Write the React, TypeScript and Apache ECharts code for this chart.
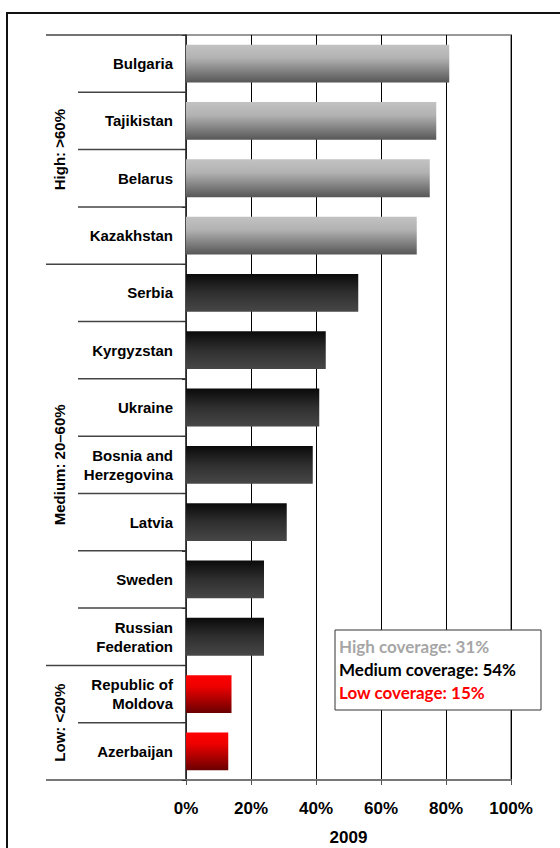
import React, { useEffect, useRef } from "react";
import * as echarts from "echarts";

const categories = [
  "Bulgaria",
  "Tajikistan",
  "Belarus",
  "Kazakhstan",
  "Serbia",
  "Kyrgyzstan",
  "Ukraine",
  "Bosnia and\nHerzegovina",
  "Latvia",
  "Sweden",
  "Russian\nFederation",
  "Republic of\nMoldova",
  "Azerbaijan",
];
const values = [81, 77, 75, 71, 53, 43, 41, 39, 31, 24, 24, 14, 13];
const groups = ["high", "high", "high", "high", "medium", "medium", "medium", "medium", "medium", "medium", "medium", "low", "low"];
const groupLabels = [
  { key: "high", text: "High: >60%" },
  { key: "medium", text: "Medium: 20\u201360%" },
  { key: "low", text: "Low: <20%" },
];
const xTicks = [0, 20, 40, 60, 80, 100];
const xName = "2009";
const legendLines = [
  { text: "High coverage: 31%", color: "#a6a6a6" },
  { text: "Medium coverage: 54%", color: "#000000" },
  { text: "Low coverage: 15%", color: "#ff0000" },
];

const grad = (stops: [number, string][]) =>
  new echarts.graphic.LinearGradient(
    0, 0, 0, 1,
    stops.map(([offset, color]) => ({ offset, color }))
  );

const groupFill: Record<string, () => any> = {
  high: () => grad([[0, "#c2c2c2"], [0.35, "#b2b2b2"], [1, "#565656"]]),
  medium: () => grad([[0, "#0a0a0a"], [0.5, "#2f2f2f"], [1, "#474747"]]),
  low: () => grad([[0, "#ff0000"], [0.3, "#ee0000"], [1, "#6a0000"]]),
};

export default function App() {
  const ref = useRef<HTMLDivElement>(null);

  useEffect(() => {
    if (!ref.current) return;
    const chart = echarts.init(ref.current, undefined, { renderer: "svg" });
    const font = "'Liberation Sans', Arial, sans-serif";

    chart.setOption({
      animation: false,
      grid: {
        left: 186,
        right: 49,
        top: 35,
        bottom: 68,
        containLabel: false,
        outerBoundsMode: "none",
        show: true,
        borderColor: "#999999",
        borderWidth: 2,
      },
      xAxis: {
        type: "value",
        min: xTicks[0],
        max: xTicks[xTicks.length - 1],
        interval: 20,
        name: xName,
        nameLocation: "middle",
        nameGap: 49,
        nameTextStyle: { fontFamily: font, fontWeight: "bold", fontSize: 17, color: "#000" },
        axisLine: { show: true, lineStyle: { color: "#777777", width: 2 } },
        axisTick: { show: true, length: 5, lineStyle: { color: "#555", width: 1 } },
        axisLabel: {
          formatter: "{value}%",
          fontFamily: font,
          fontWeight: "bold",
          fontSize: 17,
          color: "#000",
          margin: 20,
        },
        splitLine: { show: true, lineStyle: { color: "#000", width: 1 } },
      },
      yAxis: {
        type: "category",
        inverse: true,
        data: categories,
        axisLine: { show: true, lineStyle: { color: "#333", width: 1.5 } },
        axisTick: { show: true, length: 4, lineStyle: { color: "#333" } },
        axisLabel: {
          fontFamily: font,
          fontWeight: "bold",
          fontSize: 15,
          color: "#000",
          margin: 13,
          lineHeight: 19,
          align: "right",
        },
        splitLine: { show: false },
      },
      series: [
        {
          type: "bar",
          barWidth: "66%",
          data: values.map((v, i) => ({
            value: v,
            itemStyle: { color: groupFill[groups[i]]() },
          })),
        },
      ],
    });

    const centers = categories.map((c) => chart.convertToPixel({ yAxisIndex: 0 }, c) as number);
    const half = (centers[1] - centers[0]) / 2;
    const boundary = (i: number) => centers[i] - half;
    const x0 = chart.convertToPixel({ xAxisIndex: 0 }, 0) as number;
    const graphics: any[] = [];

    graphics.push({
      type: "rect",
      shape: { x: 7, y: 13, width: 700, height: 900 },
      style: { fill: "none", stroke: "#111", lineWidth: 2 },
      silent: true,
      z: -1,
    });

    for (let i = 0; i <= categories.length; i++) {
      const isGroupEdge = i === 0 || i === categories.length || groups[i] !== groups[i - 1];
      const y = i === categories.length ? centers[i - 1] + half : boundary(i);
      const xl = isGroupEdge ? 46 : 78;
      const isBottom = i === categories.length;
      graphics.push({
        type: "line",
        shape: { x1: xl, y1: y, x2: x0, y2: y },
        style: { stroke: isBottom ? "#777777" : "#444444", lineWidth: isBottom ? 2 : 1.5 },
        silent: true,
      });
    }

    groupLabels.forEach((g) => {
      const idx = groups.map((k, i) => (k === g.key ? i : -1)).filter((i) => i >= 0);
      const top = boundary(idx[0]);
      const bottom = centers[idx[idx.length - 1]] + half;
      graphics.push({
        type: "text",
        x: 59,
        y: (top + bottom) / 2,
        rotation: Math.PI / 2,
        style: {
          text: g.text,
          fontFamily: font,
          fontWeight: "bold",
          fontSize: 15,
          fill: "#000",
          align: "center",
          verticalAlign: "middle",
        },
        silent: true,
      });
    });

    graphics.push({
      type: "rect",
      shape: { x: 335, y: 630, width: 206, height: 80 },
      style: { fill: "#ffffff", stroke: "#333", lineWidth: 1 },
      z: 10,
      silent: true,
    });
    legendLines.forEach((l, i) => {
      graphics.push({
        type: "text",
        x: 339,
        y: 646 + i * 23,
        z: 11,
        style: {
          text: l.text,
          fontFamily: "Lato, 'Open Sans', sans-serif",
          fontWeight: "bold",
          fontSize: 17,
          fill: l.color,
          align: "left",
          verticalAlign: "middle",
        },
        silent: true,
      });
    });

    chart.setOption({ graphic: graphics });

    return () => chart.dispose();
  }, []);

  return (
    <div
      ref={ref}
      style={{ position: "fixed", left: 0, top: 0, width: 560, height: 848, background: "#fff" }}
    />
  );
}
